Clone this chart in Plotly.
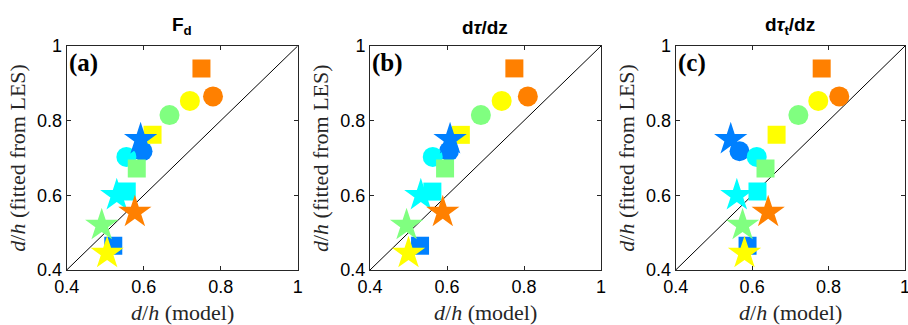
import plotly.graph_objects as go

# ---- data ----
colors = ["#0080FF", "#00FFFF", "#80FF80", "#FFFF00", "#FF8000"]  # blue, cyan, green, yellow, orange
shapes = ["circle", "square", "star"]

# LES-fitted d/h (same for every panel), per shape, per colour
y_circle = [0.718, 0.703, 0.815, 0.853, 0.865]
y_square = [0.465, 0.610, 0.672, 0.762, 0.940]
y_star   = [0.750, 0.600, 0.520, 0.445, 0.555]

# model d/h per panel
xa_circle = [0.597, 0.555, 0.667, 0.720, 0.780]
xa_square = [0.521, 0.556, 0.582, 0.623, 0.750]
xa_star   = [0.592, 0.530, 0.491, 0.505, 0.577]

xb_circle = [0.605, 0.563, 0.688, 0.742, 0.810]
xb_square = [0.530, 0.562, 0.595, 0.636, 0.775]
xb_star   = [0.608, 0.532, 0.495, 0.500, 0.589]

xc_circle = [0.567, 0.612, 0.721, 0.773, 0.828]
xc_square = [0.588, 0.614, 0.635, 0.664, 0.782]
xc_star   = [0.544, 0.560, 0.575, 0.580, 0.642]

panel_titles = ["<b>F<sub>d</sub></b>", "<b>d<i>τ</i>/dz</b>", "<b>d<i>τ</i><sub>t</sub>/dz</b>"]
panel_labels = ["<b>(a)</b>", "<b>(b)</b>", "<b>(c)</b>"]
tick_vals = [0.4, 0.6, 0.8, 1.0]
tick_text = ["0.4", "0.6", "0.8", "1"]
diag = [0.4, 1.0]

panels = [
    (xa_circle, xa_square, xa_star),
    (xb_circle, xb_square, xb_star),
    (xc_circle, xc_square, xc_star),
]

W, H = 908, 325
x_px = [(66.7, 297.7), (370.0, 601.0), (675.7, 905.0)]
y_px = (46.0, 270.0)
marker_size = {"circle": 20, "square": 18, "star": 25}

fig = go.Figure()
annotations = []
ydom = [1 - y_px[1] / H, 1 - y_px[0] / H]

for i, (xc_, xs_, xst_) in enumerate(panels):
    sfx = "" if i == 0 else str(i + 1)
    xref = "x" + sfx
    yref = "y" + sfx
    # diagonal
    fig.add_trace(go.Scatter(x=diag, y=diag, mode="lines",
                             line=dict(color="black", width=1),
                             xaxis=xref, yaxis=yref, showlegend=False, hoverinfo="skip"))
    for shape, xs, ys in zip(shapes, (xc_, xs_, xst_), (y_circle, y_square, y_star)):
        for c, xv, yv in zip(colors, xs, ys):
            fig.add_trace(go.Scatter(x=[xv], y=[yv], mode="markers",
                                     marker=dict(symbol=shape, size=marker_size[shape], color=c,
                                                 line=dict(width=0)),
                                     xaxis=xref, yaxis=yref, showlegend=False))
    axis_common = dict(range=[0.4, 1.0], tickvals=tick_vals, ticktext=tick_text,
                       showline=True, mirror="ticks", linecolor="#262626", linewidth=1,
                       ticks="inside", ticklen=4, tickcolor="#262626",
                       showgrid=False, zeroline=False, automargin=False,
                       ticklabeloverflow="allow",
                       tickfont=dict(family="Liberation Sans, Arial", size=18, color="#000000"))
    fig.update_layout(**{
        "xaxis" + sfx: dict(domain=[x_px[i][0] / W, x_px[i][1] / W], anchor=yref, **axis_common),
        "yaxis" + sfx: dict(domain=ydom, anchor=xref, **axis_common),
    })
    cx = (x_px[i][0] + x_px[i][1]) / 2 / W
    # panel title
    annotations.append(dict(text=panel_titles[i], x=cx, y=1 - 40 / H, xref="paper", yref="paper",
                            xanchor="center", yanchor="bottom", showarrow=False,
                            font=dict(family="Liberation Sans, Arial", size=19, color="black")))
    # (a)/(b)/(c)
    annotations.append(dict(text=panel_labels[i], x=0.0, y=0.995, xref=xref + " domain", yref=yref + " domain",
                            xanchor="left", yanchor="top", showarrow=False,
                            font=dict(family="Liberation Serif, Times New Roman", size=25, color="black")))
    # x title
    annotations.append(dict(text="<i>d</i>/<i>h</i> (model)", x=cx, y=1 - 312 / H,
                            xref="paper", yref="paper", xanchor="center", yanchor="middle",
                            showarrow=False,
                            font=dict(family="Liberation Serif, Times New Roman", size=22, color="#262626")))
    # y title
    annotations.append(dict(text="<i>d</i>/<i>h</i> (fitted from LES)", x=(x_px[i][0] - 50) / W,
                            y=1 - (y_px[0] + y_px[1]) / 2 / H, xref="paper", yref="paper",
                            xanchor="center", yanchor="middle", textangle=-90, showarrow=False,
                            font=dict(family="Liberation Serif, Times New Roman", size=22, color="#262626")))

fig.update_layout(width=W, height=H, margin=dict(l=0, r=0, t=0, b=0),
                  paper_bgcolor="white", plot_bgcolor="white",
                  annotations=annotations, showlegend=False)

fig.write_html("out.html")
